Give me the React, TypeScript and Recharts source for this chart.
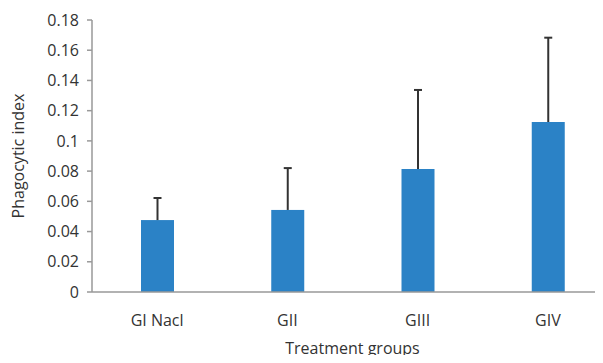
import React from 'react';
import { BarChart, Bar, XAxis, YAxis } from 'recharts';

const categories = ['GI Nacl', 'GII', 'GIII', 'GIV'];
const means = [0.0476, 0.0543, 0.0814, 0.1125];
const errors = [0.0146, 0.0277, 0.0523, 0.0558];
const yTicks = [0, 0.02, 0.04, 0.06, 0.08, 0.1, 0.12, 0.14, 0.16, 0.18];

const data = categories.map((name, i) => ({ name, value: means[i], err: errors[i] }));

const FONT = '"Open Sans", sans-serif';

const BarWithError = (props: any) => {
  const { x, y, width, height, value, payload, fill } = props;
  const v = Array.isArray(value) ? value[1] - value[0] : value;
  const pxPerUnit = v ? height / v : 0;
  const errTop = y - payload.err * pxPerUnit;
  const cx = x + width / 2;
  return (
    <g>
      <rect x={x} y={y} width={width} height={height} fill={fill} />
      <line x1={cx} y1={y} x2={cx} y2={errTop} stroke="#333" strokeWidth={2} />
      <line x1={cx - 4} y1={errTop} x2={cx + 4} y2={errTop} stroke="#333" strokeWidth={2} />
    </g>
  );
};

export default function App() {
  return (
    <div style={{ margin: -8, width: 603, height: 363, overflow: 'hidden', background: '#fff' }}>
      <BarChart
        width={625}
        height={363}
        data={data}
        margin={{ top: 20, right: 12, bottom: 0, left: 32 }}
        barCategoryGap="0%"
      >
        <XAxis
          dataKey="name"
          axisLine={{ stroke: '#999', strokeWidth: 1.5 }}
          tickLine={false}
          tickSize={0}
          tickMargin={23}
          height={71}
          tick={{ fill: '#333', fontSize: 16, fontFamily: FONT }}
          label={{ value: 'Treatment groups', position: 'insideBottom', offset: 9, fill: '#333', fontSize: 16, fontFamily: FONT }}
        />
        <YAxis
          domain={[0, 0.18]}
          ticks={yTicks}
          interval={0}
          tickFormatter={(v: number) => String(+v.toFixed(2))}
          axisLine={{ stroke: '#999', strokeWidth: 1.5 }}
          tickLine={{ stroke: '#999', strokeWidth: 1.5 }}
          tickSize={5}
          tickMargin={8}
          width={60}
          tick={{ fill: '#333', fontSize: 16, fontFamily: FONT }}
          label={{ value: 'Phagocytic index', angle: -90, position: 'insideLeft', offset: -14, fill: '#333', fontSize: 16, fontFamily: FONT, style: { textAnchor: 'middle' } }}
        />
        <Bar dataKey="value" fill="#2B82C6" barSize={33} isAnimationActive={false} shape={BarWithError} />
      </BarChart>
    </div>
  );
}
